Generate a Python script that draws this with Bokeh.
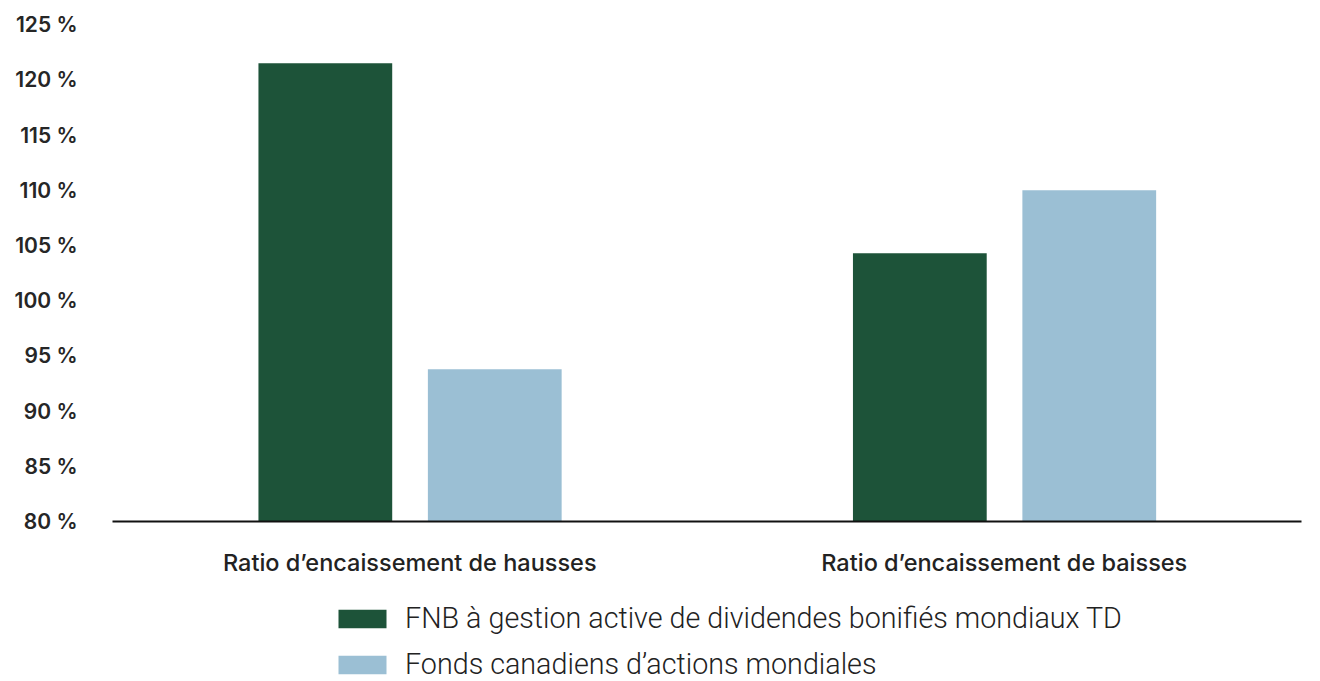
from bokeh.plotting import figure
from bokeh.layouts import column
from bokeh.models import FactorRange, Range1d, FixedTicker, Legend, LegendItem, ColumnDataSource
from bokeh.transform import dodge
from bokeh.embed import file_html
from bokeh.resources import INLINE

categories = ["Ratio d’encaissement de hausses", "Ratio d’encaissement de baisses"]
series_names = ["FNB à gestion active de dividendes bonifiés mondiaux TD",
                "Fonds canadiens d’actions mondiales"]
fnb_values = [121.5, 104.3]
fonds_values = [93.8, 110.0]
tick_values = [80, 85, 90, 95, 100, 105, 110, 115, 120, 125]
tick_labels = ["80 %", "85 %", "90 %", "95 %", "100 %", "105 %", "110 %", "115 %", "120 %", "125 %"]

GREEN = "#1d5339"
BLUE = "#9bbfd4"

src = ColumnDataSource(dict(cat=categories, fnb=fnb_values, fonds=fonds_values))
xr = FactorRange(*categories, range_padding=0)

p = figure(width=1320, height=600, output_backend="svg", toolbar_location=None,
           x_range=xr, y_range=Range1d(80, 125.56),
           min_border_left=112, min_border_right=19, min_border_top=18, min_border_bottom=79)
p.outline_line_color = None
p.xgrid.visible = False
p.ygrid.visible = False

p.vbar(x=dodge("cat", -0.142, range=xr), top="fnb", bottom=80, width=0.225,
       source=src, color=GREEN, line_color=None)
p.vbar(x=dodge("cat", 0.143, range=xr), top="fonds", bottom=80, width=0.225,
       source=src, color=BLUE, line_color=None)

ya = p.yaxis[0]
ya.ticker = FixedTicker(ticks=tick_values)
ya.major_label_overrides = {v: l for v, l in zip(tick_values, tick_labels)}
ya.axis_line_color = None
ya.major_tick_line_color = None
ya.minor_tick_line_color = None
ya.major_tick_out = 0
ya.major_label_standoff = 35
ya.major_label_text_font = "'Inter SemiBold', Inter"
ya.major_label_text_font_size = "21px"
ya.major_label_text_font_style = "normal"
ya.major_label_text_color = "#262626"

xa = p.xaxis[0]
xa.axis_line_color = "#111111"
xa.axis_line_width = 2
xa.major_tick_line_color = None
xa.minor_tick_line_color = None
xa.major_tick_out = 0
xa.major_label_standoff = 26
xa.major_label_text_font = "'Inter Medium', Inter"
xa.major_label_text_font_size = "23.5px"
xa.major_label_text_font_style = "normal"
xa.major_label_text_color = "#222222"

# Legend panel below the chart (its zero-width bars draw nothing; they only give the legend swatches)
p2 = figure(width=1320, height=81, output_backend="svg", toolbar_location=None,
            x_range=xr, y_range=Range1d(0, 1),
            min_border_left=0, min_border_right=0, min_border_top=0, min_border_bottom=0)
p2.axis.visible = False
p2.grid.visible = False
p2.outline_line_color = None
l1 = p2.vbar(x="cat", top="fnb", bottom=80, width=0, source=src, color=GREEN, line_color=None)
l2 = p2.vbar(x="cat", top="fonds", bottom=80, width=0, source=src, color=BLUE, line_color=None)

legend = Legend(items=[LegendItem(label=series_names[0], renderers=[l1], index=0),
                       LegendItem(label=series_names[1], renderers=[l2], index=0)],
                location=(220, 0), orientation="vertical",
                glyph_width=60, glyph_height=23, label_standoff=13,
                label_text_font="'Roboto Light', Roboto", label_text_font_size="28.7px",
                label_text_color="#222222", label_height=23, spacing=12,
                padding=0, margin=0, border_line_alpha=0, background_fill_alpha=0)
p2.add_layout(legend, "center")

layout = column(p, p2, spacing=0)
open("out.html", "w").write(file_html(layout, INLINE))
